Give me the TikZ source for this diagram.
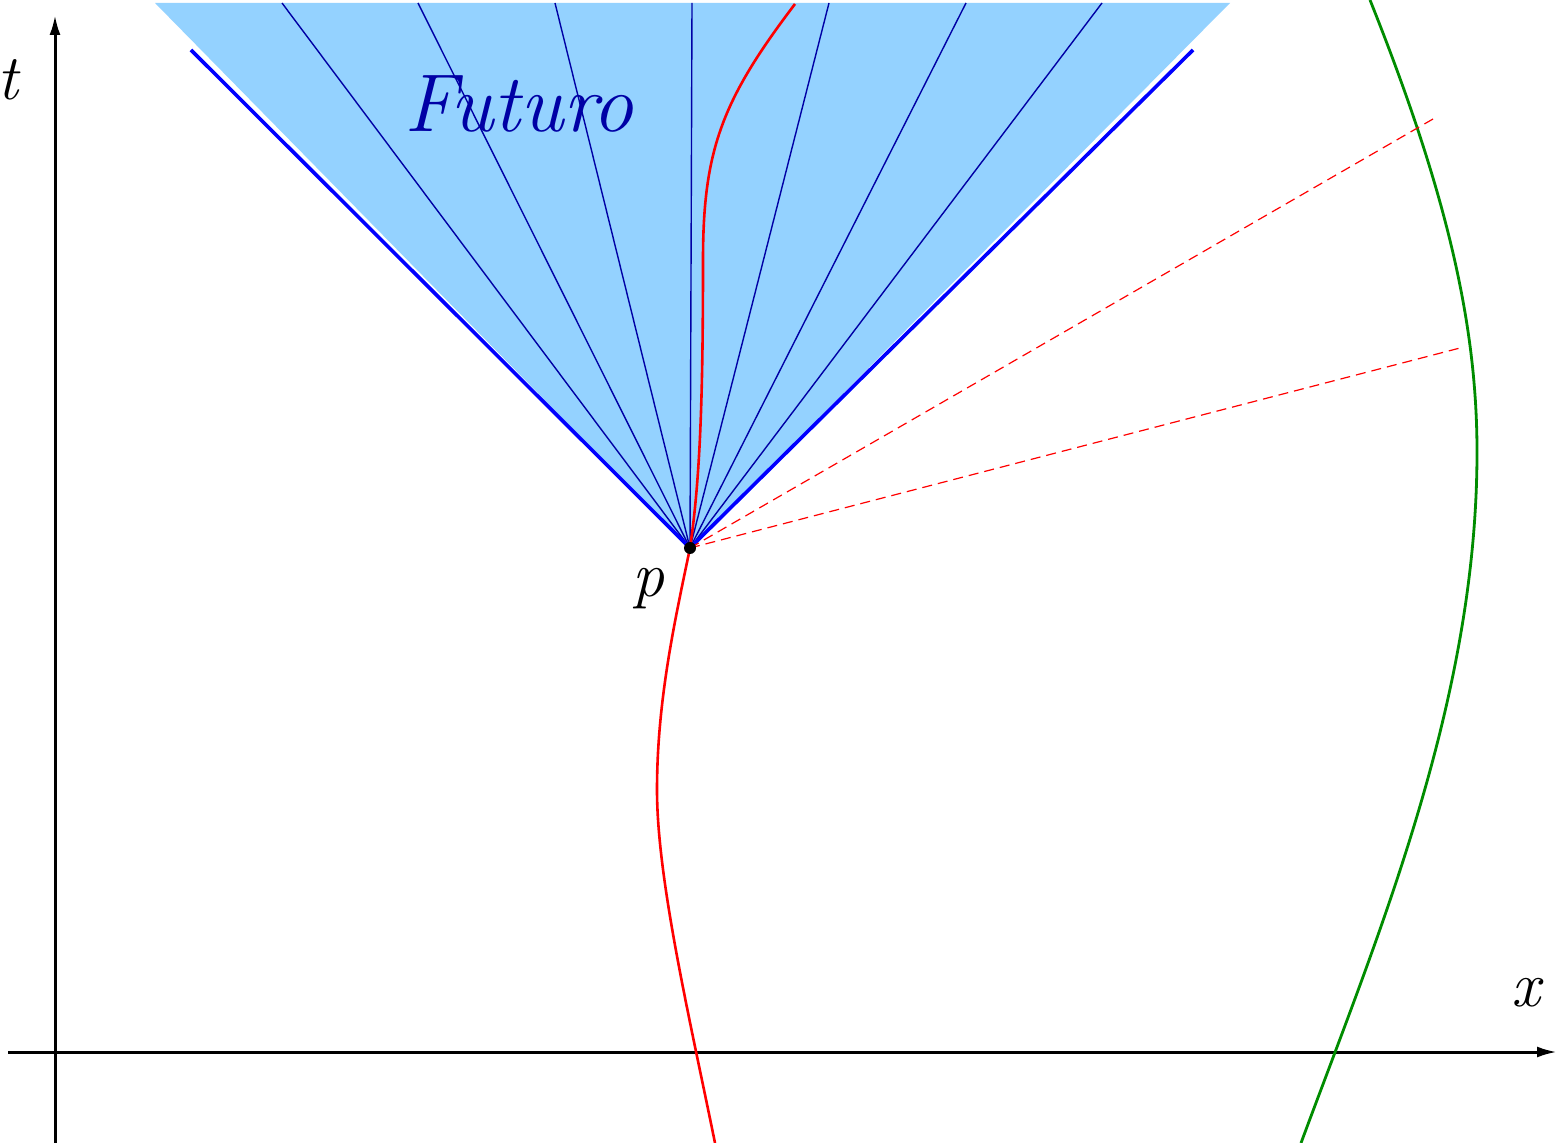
\documentclass[tikz,border=0pt]{standalone}
\usepackage{fontspec}
\usetikzlibrary{arrows.meta}
\definecolor{celeste}{RGB}{148,210,255}
\definecolor{marino}{RGB}{0,0,165}
\definecolor{verde}{RGB}{0,140,0}
\tikzset{
  eje/.style={line width=1.5pt, -{Latex[length=10pt,width=5.5pt]}},
  rayo/.style={marino, line width=0.7pt},
  borde/.style={blue, line width=1.8pt},
  mundo/.style={line width=1.3pt, red},
  senal/.style={red, line width=0.6pt, dash pattern=on 5pt off 3pt},
  etiqueta/.style={font=\fontsize{32}{32}\selectfont\itshape, inner sep=0pt}
}
\begin{document}
\begin{tikzpicture}[x=0.5pt, y=-0.5pt] % un punto de la imagen = 0.5pt

    \useasboundingbox (0,0) rectangle (1564,1143);

    % 1. Evento p y el cono de luz futuro
    \coordinate (p) at (690,548);
    \coordinate (izq) at (155,3);
    \coordinate (der) at (1230,3);
    \fill[celeste] (p) -- (izq) -- (der) -- cycle;

    % Rayos dentro del cono
    \foreach \xx [count=\k] in {282,418,555,692,829,966,1102} {
        \coordinate (r\k) at (\xx,3);
        \draw[rayo] (p) -- (r\k);
    }

    % Bordes del cono
    \coordinate (bi) at (191,50);
    \coordinate (bd) at (1193,50);
    \draw[borde] (p) -- (bi);
    \draw[borde] (p) -- (bd);

    % 2. Ejes
    \coordinate (x0) at (8,1052);
    \coordinate (x1) at (1557,1052);
    \coordinate (t0) at (55,1143);
    \coordinate (t1) at (55,15);
    \draw[eje] (x0) -- (x1);
    \draw[eje] (t0) -- (t1);

    % 3. Lineas de mundo
    \draw[mundo] (715,1143) .. controls (690,1020) and (657,880) .. (657,790)
        .. controls (657,700) and (675,620) .. (p);
    \draw[mundo] (p) .. controls (700,480) and (703,400) .. (703,260)
        .. controls (703,150) and (722,100) .. (795,4);
    \draw[verde, line width=1.4pt] (1301,1143) .. controls (1380,930) and (1477,700) .. (1477,452)
        .. controls (1477,330) and (1450,200) .. (1370,0);

    % 4. Senales hacia el observador lejano
    \coordinate (s1) at (1433,119);
    \coordinate (s2) at (1460,348);
    \draw[senal] (p) -- (s1);
    \draw[senal] (p) -- (s2);

    \fill[black] (p) circle (6);

    % Etiquetas
    \node[etiqueta] (lt) at (8,80) {t};
    \node[etiqueta] (lx) at (1526,993) {x};
    \node[etiqueta] (lp) at (648,589) {p};
    \node[marino, font=\fontsize{41}{41}\selectfont\itshape, inner sep=0pt] (fut) at (519,104) {Futuro};

\end{tikzpicture}
\end{document}
